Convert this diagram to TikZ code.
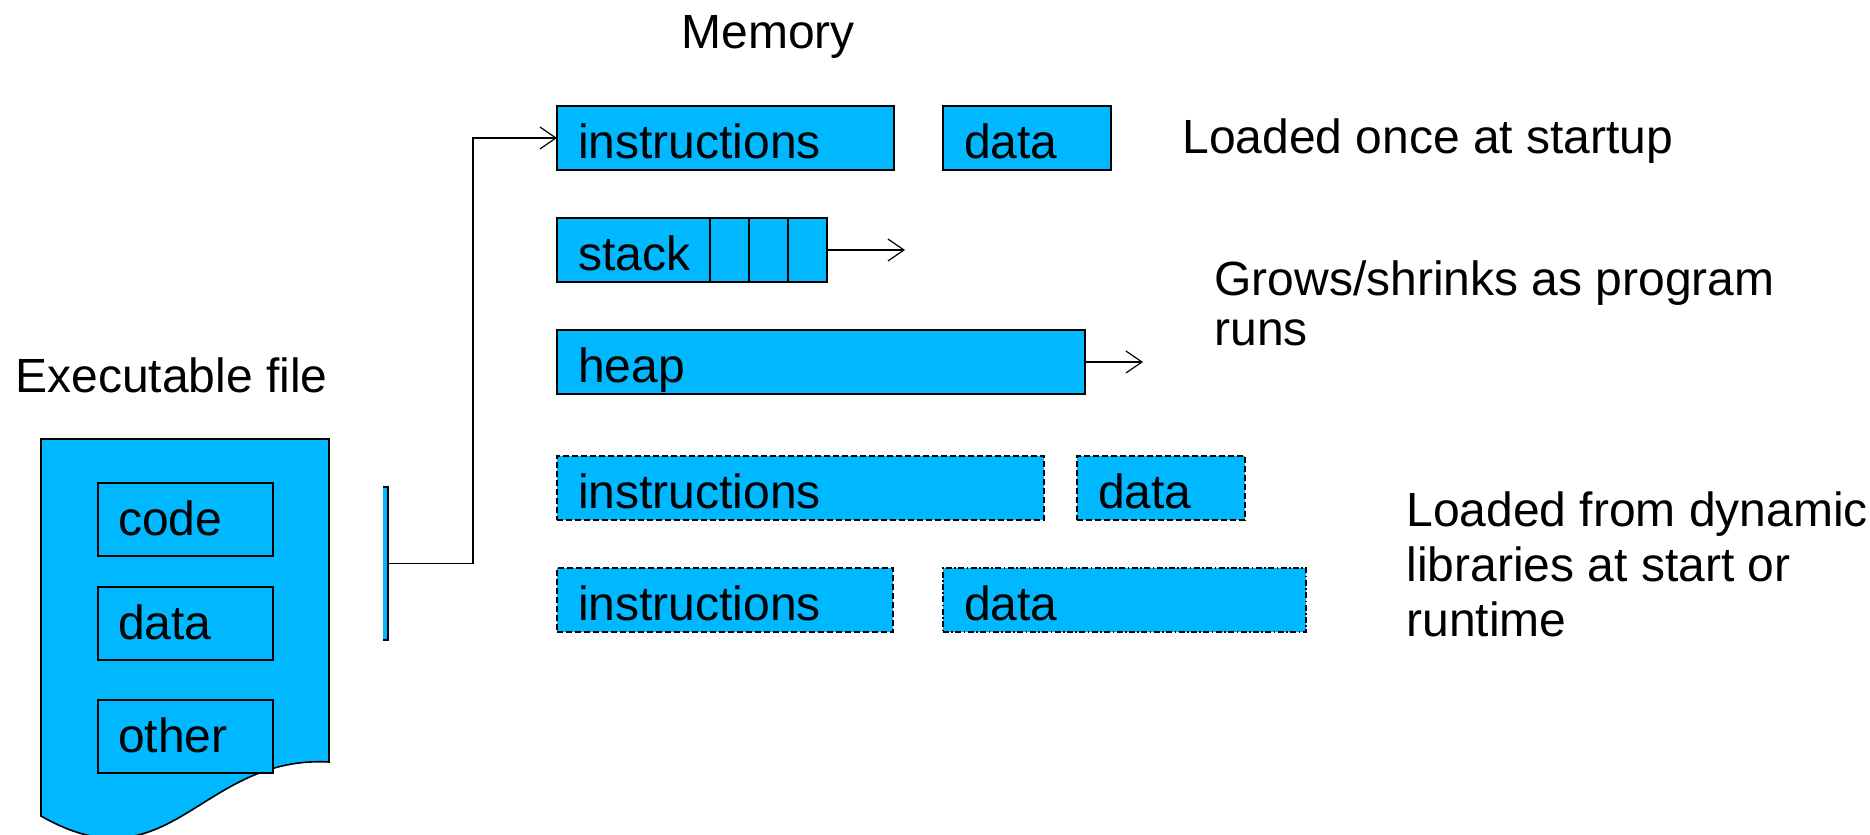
\documentclass[tikz,border=0pt]{standalone}
\usepackage{fontspec}
\setmainfont{Liberation Sans}
\usetikzlibrary{arrows.meta, positioning}
\definecolor{memblue}{HTML}{00B8FF}

\begin{document}
\begin{tikzpicture}[x=0.5pt, y=-0.5pt,
  font=\fontsize{24}{26}\selectfont,
  cell/.style={draw, fill=memblue, line width=.8pt, outer sep=0pt,
               inner xsep=10.5pt, inner ysep=0pt, text height=26pt,
               text depth=6pt, align=left, text width=#1},
  slot/.style={draw, fill=memblue, line width=.8pt, outer sep=0pt,
               inner sep=0pt, minimum width=19.5pt, minimum height=32pt},
  part/.style={draw, fill=memblue, line width=.8pt, outer sep=0pt,
               inner xsep=10pt, inner ysep=0pt, text height=26pt,
               text depth=10.5pt, align=left, text width=67.5pt},
  shared/.style={line width=.6pt, dash pattern=on 3pt off 1.5pt},
  shareddot/.style={line width=.6pt, dash pattern=on 3pt off 1.2pt on .8pt off 1.2pt},
  lbl/.style={anchor=base west, inner sep=0pt, align=left},
  ar/.style={-{Straight Barb[length=8pt, width=11pt]}, line width=.6pt}]

\useasboundingbox (0,0) rectangle (1870,835);

\node[lbl] (mem) at (681,48) {Memory};
\node[lbl] (exe) at (15,392) {Executable file};

\draw[line width=.8pt, fill=memblue] (41,439) -- (329,439) -- (329,762)
  .. controls (200,755) and (170,890) .. (41,816) -- cycle;
\node[part, anchor=north west] (fcode) at (98,483) {code};
\node[part, below right=15.5pt and 0pt of fcode.south west] (fdata) {data};
\node[part, below right=20pt and 0pt of fdata.south west] (fother) {other};

\node[fill=memblue, minimum width=2.5pt, minimum height=76.5pt,
      inner sep=0pt, outer sep=0pt] (brk) at (385.5,563.5) {};
\draw[line width=.8pt] (brk.north west) -- (brk.north east)
  -- (brk.south east) -- (brk.south west);

\node[cell=147.5pt, anchor=north west] (ins1) at (557,106) {instructions};
\node[cell=63pt, right=24.5pt of ins1] (dat1) {data};

\node[cell=55.5pt, below right=24pt and 0pt of ins1.south west] (stk) {stack};
\node[slot, right=0pt of stk] (s1) {};
\node[slot, right=0pt of s1] (s2) {};
\node[slot, right=0pt of s2] (s3) {};

\node[cell=243pt, below right=24pt and 0pt of stk.south west] (heap) {heap};

\node[cell=222.5pt, shared, below right=31pt and 0pt of heap.south west] (ins2) {instructions};
\node[cell=63pt, shared, right=16.5pt of ins2] (dat2) {data};

\node[cell=147pt, shared, below right=24pt and 0pt of ins2.south west] (ins3) {instructions};
\node[cell=160.5pt, shareddot, right=25pt of ins3] (dat3) {data};

\node[lbl] (once) at (1182,153) {Loaded once at startup};
\node[lbl, font=\fontsize{24}{25}\selectfont] (grows) at (1214,345)
  {Grows/shrinks as program\\runs};
\node[lbl, font=\fontsize{24}{27.5}\selectfont] (dyn) at (1406,636)
  {Loaded from dynamic\\libraries at start or\\runtime};

\coordinate (stkend) at ([xshift=39pt]s3.east);
\coordinate (heapend) at ([xshift=29pt]heap.east);

\draw[ar] (brk.east) -- ++(85,0) |- (ins1.west);
\draw[ar] (s3.east) -- (stkend);
\draw[ar] (heap.east) -- (heapend);
\end{tikzpicture}
\end{document}
